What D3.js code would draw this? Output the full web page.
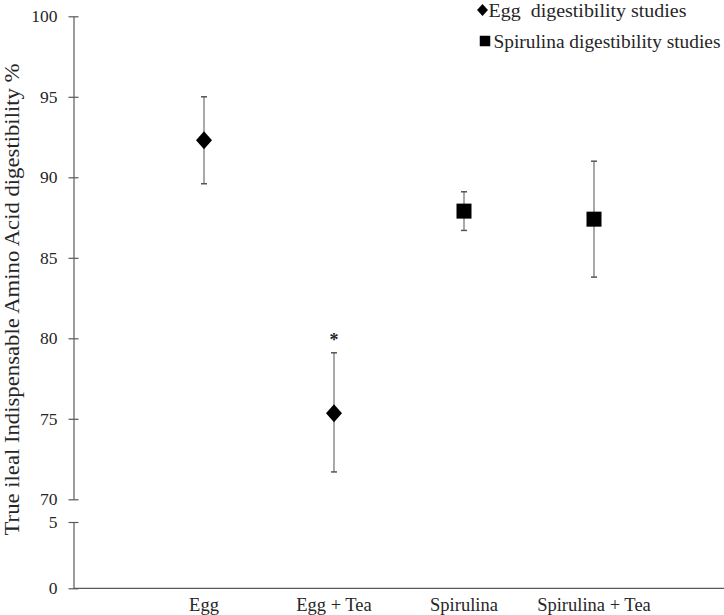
<!DOCTYPE html>
<html>
<head>
<meta charset="utf-8">
<script src="https://cdn.jsdelivr.net/npm/d3@7"></script>
<style>
  html, body { margin: 0; padding: 0; background: #fff; }
  svg { display: block; }
  text { font-family: "Liberation Serif", "Times New Roman", serif; fill: #262626; white-space: pre; }
</style>
</head>
<body>
<script>
// ---- data ----
const categories = ["Egg", "Egg + Tea", "Spirulina", "Spirulina + Tea"];
const series = ["Egg  digestibility studies", "Spirulina digestibility studies"];
const seriesOf = [0, 0, 1, 1];
const means = [92.3, 75.35, 87.9, 87.4];
const lows = [89.6, 71.7, 86.7, 83.8];
const highs = [95.0, 79.1, 89.1, 91.0];
const significant = [false, true, false, false];
const upperTicks = [70, 75, 80, 85, 90, 95, 100];
const lowerTicks = [0, 5];
const yTitle = "True ileal Indispensable Amino Acid digestibility %";

const W = 724, H = 615;
const axisX = 73.5;
const svg = d3.select("body").append("svg").attr("width", W).attr("height", H);

const x = d3.scalePoint().domain(categories).range([204, 594]);
const yUp = d3.scaleLinear().domain([70, 100]).range([499.3, 16.3]);
const yLow = d3.scaleLinear().domain([0, 5]).range([588.3, 522]);

const axisColor = "#595959";

function styleAxis(g) {
  g.select(".domain").attr("stroke", axisColor).attr("stroke-width", 1.2);
  g.selectAll(".tick line").attr("stroke", axisColor).attr("stroke-width", 1.2).attr("x1", 5);
  g.selectAll(".tick text").attr("font-size", 17.5).attr("fill", "#262626")
    .attr("font-family", "Liberation Serif, serif").attr("x", -16);
}

svg.append("g").attr("transform", `translate(${axisX},0)`)
  .call(d3.axisLeft(yUp).tickValues(upperTicks).tickSize(5).tickSizeOuter(0).tickFormat(d3.format("d")))
  .call(styleAxis);
svg.append("g").attr("transform", `translate(${axisX},0)`)
  .call(d3.axisLeft(yLow).tickValues(lowerTicks).tickSize(5).tickSizeOuter(0).tickFormat(d3.format("d")))
  .call(styleAxis);

// x axis
const xAxisG = svg.append("g").attr("transform", `translate(0,${yLow(0)})`);
xAxisG.append("line").attr("x1", axisX).attr("x2", W).attr("stroke", axisColor).attr("stroke-width", 1.2);
xAxisG.selectAll("text.xl").data(categories).join("text")
  .attr("class", "xl")
  .attr("x", d => x(d)).attr("y", 23)
  .attr("text-anchor", "middle").attr("font-size", 18.5)
  .text(d => d);

// y title
svg.append("text")
  .attr("transform", `translate(19,${(62 + 537) / 2}) rotate(-90)`)
  .attr("text-anchor", "middle").attr("font-size", 22)
  .attr("textLength", 472).attr("lengthAdjust", "spacingAndGlyphs")
  .text(yTitle);

// error bars
const eb = svg.append("g");
categories.forEach((c, i) => {
  const cx = x(c);
  eb.append("line").attr("x1", cx).attr("x2", cx).attr("y1", yUp(highs[i])).attr("y2", yUp(lows[i]))
    .attr("stroke", "#8c8c8c").attr("stroke-width", 1.5);
  [highs[i], lows[i]].forEach(v => {
    eb.append("line").attr("x1", cx - 3).attr("x2", cx + 3).attr("y1", yUp(v)).attr("y2", yUp(v))
      .attr("stroke", "#555").attr("stroke-width", 1.5);
  });
});

// markers
function marker(g, type, cx, cy, scale) {
  if (type === 0) {
    const w = 8 * scale, h = 9 * scale;
    g.append("path").attr("d", `M${cx},${cy - h}L${cx + w},${cy}L${cx},${cy + h}L${cx - w},${cy}Z`).attr("fill", "#000");
  } else {
    const s = 7.5 * scale;
    g.append("rect").attr("x", cx - s).attr("y", cy - s).attr("width", 2 * s).attr("height", 2 * s).attr("fill", "#000");
  }
}
const mk = svg.append("g");
categories.forEach((c, i) => marker(mk, seriesOf[i], x(c), yUp(means[i]), 1));

// significance
categories.forEach((c, i) => {
  if (significant[i]) {
    svg.append("text").attr("x", x(c)).attr("y", yUp(highs[i]) - 7)
      .attr("text-anchor", "middle").attr("font-size", 18).attr("font-weight", "bold").attr("fill", "#000").text("*");
  }
});

// legend
const lg = svg.append("g");
const legendLen = [198, 227];
series.forEach((s, i) => {
  const ly = 10 + i * 31;
  marker(lg, i, i === 0 ? 482.5 : 485, ly, i === 0 ? 0.68 : 0.7);
  lg.append("text").attr("x", i === 0 ? 488.5 : 493.5).attr("y", ly + 7).attr("font-size", 19.5)
    .attr("textLength", legendLen[i]).attr("lengthAdjust", "spacingAndGlyphs").text(s);
});
</script>
</body>
</html>
